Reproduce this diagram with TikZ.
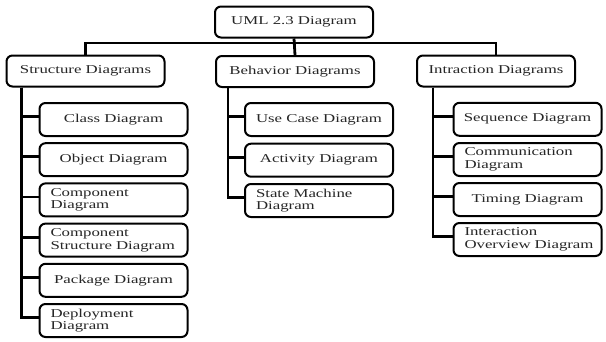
\documentclass[tikz,border=0pt]{standalone}
\usepackage{fontspec}
\setmainfont{Liberation Serif}[FakeStretch=1.4]
\newcommand\myboxfont{\fontsize{12}{12.5}\selectfont\hyphenpenalty 10000\relax}
\begin{document}
\begin{tikzpicture}[x=1pt,y=-1pt,
  box/.style={draw=black, line width=2pt, rounded corners=6pt, fill=white,
    minimum width=158pt, minimum height=31pt, inner sep=0pt,
    font=\myboxfont, text=black!85},
  child/.style={box, minimum width=148pt, minimum height=33pt},
  two/.style={child, align=left, text width=126pt},
  conn/.style={line width=2.8pt, draw=black}]
\useasboundingbox (0,0) rectangle (606,341);
% level 0 and 1
\node[box] (top) at (294,22) {UML 2.3 Diagram};
\node[box] (S) at (85.5,71) {Structure Diagrams};
\node[box] (B) at (295,71.5) {Behavior Diagrams};
\node[box] (I) at (496,71) {Intraction Diagrams};
% structure children
\node[child] (s1) at (113.5,119.5) {Class Diagram};
\node[child] (s2) at (113.5,159.7) {Object Diagram};
\node[two]   (s3) at (113.5,199.9) {Component\\Diagram};
\node[two]   (s4) at (113.5,240.1) {Component\\Structure~Diagram};
\node[child] (s5) at (113.5,280.3) {Package Diagram};
\node[two]   (s6) at (113.5,320.5) {Deployment\\Diagram};
% behavior children
\node[child] (b1) at (319,119.5) {Use Case Diagram};
\node[child] (b2) at (319,160.2) {Activity Diagram};
\node[two]   (b3) at (319,200.5) {State~Machine\\Diagram};
% interaction children
\node[child] (i1) at (527.5,119.3) {Sequence Diagram};
\node[two]   (i2) at (527.5,159.5) {Communication\\Diagram};
\node[child] (i3) at (527.5,199.5) {Timing Diagram};
\node[two]   (i4) at (527.5,239.5) {Interaction\\Overview~Diagram};
% connectors
\coordinate (bus) at (294,43);
\draw[conn] (top.south) -- (B.north);
\draw[conn] (S.north) |- (bus) -| (I.north);
\foreach \c in {s1,s2,s3,s4,s5,s6}
  \draw[conn] ([xshift=16pt]S.south west) |- ([yshift=3pt]\c.west);
\foreach \c in {b1,b2,b3}
  \draw[conn] ([xshift=13pt]B.south west) |- ([yshift=3pt]\c.west);
\foreach \c in {i1,i2,i3,i4}
  \draw[conn] ([xshift=17pt]I.south west) |- ([yshift=3pt]\c.west);
\end{tikzpicture}
\end{document}
